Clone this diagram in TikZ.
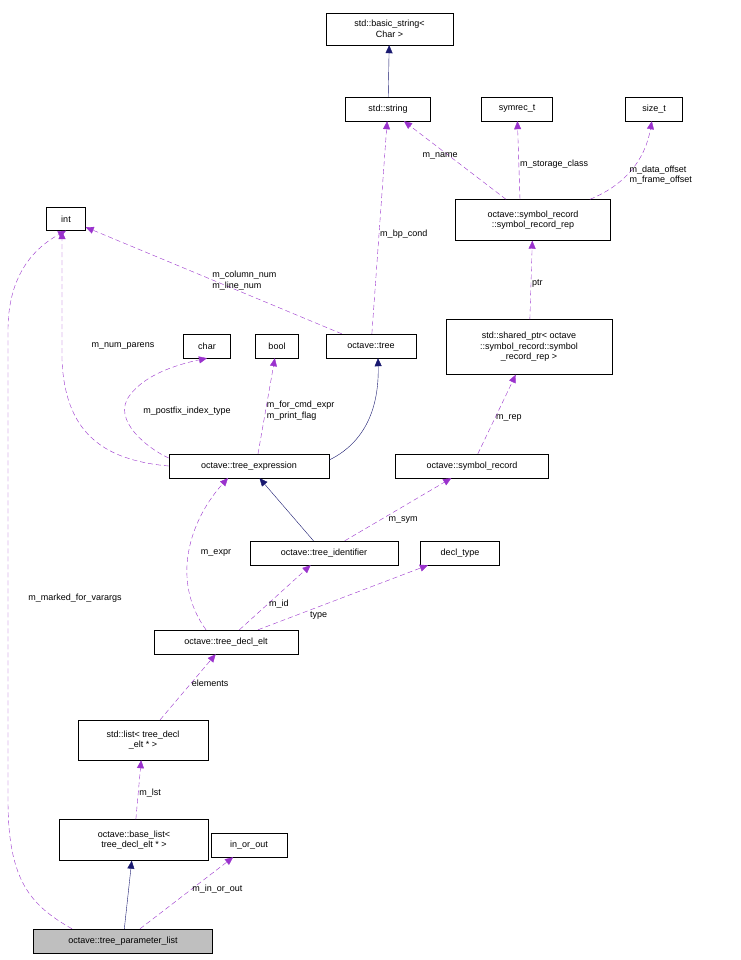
\documentclass[tikz,border=0pt]{standalone}
\usepackage{fontspec}
\setmainfont{Liberation Sans}
\usepackage{tikz}
\usetikzlibrary{arrows.meta,positioning}
\definecolor{edgepurple}{RGB}{154,50,205}
\definecolor{edgenavy}{RGB}{25,25,112}
\tikzset{
  cls/.style={draw=black,fill=white,inner sep=2pt,align=center,font=\fontsize{9}{10.5}\selectfont},
  uses/.style={draw=edgepurple,dashed,dash pattern=on 5pt off 3pt,-{Triangle[width=7pt,length=8pt]},fill=none},
  inherits/.style={draw=edgenavy,-{Triangle[width=7pt,length=8pt]},fill=none},
  lbl/.style={font=\fontsize{9}{10.5}\selectfont,align=left,inner sep=1pt}
}
\begin{document}
\begin{tikzpicture}[x=1pt,y=-1pt]
       \fill[white] (0,0) rectangle (740,960);
       \useasboundingbox (0,0) rectangle (740,960);

       %top classes
       \node[cls,minimum width=127pt,minimum height=32pt] (bstr) at (389.5,29) {std::basic\_string\textless\\Char \textgreater};
       \node[cls,minimum width=85pt,minimum height=24pt] (str) at (388,109) {std::string};
       \node[cls,minimum width=71pt,minimum height=24pt] (symrec) at (517,109) {symrec\_t};
       \node[cls,minimum width=57pt,minimum height=24pt] (sizet) at (654,109) {size\_t};
       \node[cls,minimum width=155pt,minimum height=41pt] (symrep) at (533,220) {octave::symbol\_record\\::symbol\_record\_rep};
       \node[cls,minimum width=39pt,minimum height=23pt] (int) at (66,219) {int};
       \node[cls,minimum width=166pt,minimum height=55pt] (shptr) at (529,347) {std::shared\_ptr\textless{} octave\\::symbol\_record::symbol\\\_record\_rep \textgreater};

       %middle row
       \node[cls,minimum width=47pt,minimum height=24pt] (char) at (207,346) {char};
       \node[cls,minimum width=43pt,minimum height=24pt] (bool) at (277,346) {bool};
       \node[cls,minimum width=90pt,minimum height=24pt] (tree) at (371,346) {octave::tree};
       \node[cls,minimum width=160pt,minimum height=24pt] (texpr) at (249,466) {octave::tree\_expression};
       \node[cls,minimum width=153pt,minimum height=24pt] (symr) at (472,466) {octave::symbol\_record};
       \node[cls,minimum width=148pt,minimum height=24pt] (tid) at (324,553) {octave::tree\_identifier};
       \node[cls,minimum width=79pt,minimum height=24pt] (decl) at (460,553) {decl\_type};
       \node[cls,minimum width=144pt,minimum height=24pt] (tdecl) at (226,642) {octave::tree\_decl\_elt};

       %bottom
       \node[cls,minimum width=130pt,minimum height=40pt] (lst) at (143,740) {std::list\textless{} tree\_decl\\\_elt * \textgreater};
       \node[cls,minimum width=149pt,minimum height=41pt] (blist) at (134,840) {octave::base\_list\textless\\tree\_decl\_elt * \textgreater};
       \node[cls,minimum width=76pt,minimum height=24pt] (inout) at (249,845) {in\_or\_out};
       \node[cls,fill={rgb,255:red,191;green,191;blue,191},minimum width=179pt,minimum height=24pt] (tpl) at (123,941) {octave::tree\_parameter\_list};

       %inheritance
       \draw[inherits] (str) -- (bstr);
       \draw[inherits] (tpl) -- (blist);
       \draw[inherits] (tid) -- (texpr);
       \draw[inherits] (texpr.east) ++(0,-6) .. controls (370,440) and (379,400) .. (tree.south -| 378,0);

       %members
       \draw[uses] (symrep) -- (str) node[lbl,pos=0.5,above left=0pt and -4pt] {m\_name};
       \draw[uses] (symrep.north -| 520,0) -- (symrec) node[lbl,pos=0.45,right] {m\_storage\_class};
       \draw[uses] (symrep.north -| 590,0) .. controls (625,185) and (645,160) .. (sizet) node[lbl,pos=0.45,right,yshift=-2pt] {m\_data\_offset\\m\_frame\_offset};
       \draw[uses] (tree) -- (str) node[lbl,pos=0.47,right] {m\_bp\_cond};
       \draw[uses] (tree) -- (int) node[lbl,pos=0.4,above,xshift=5pt] {m\_column\_num\\m\_line\_num};
       \draw[uses] (shptr) -- (symrep) node[lbl,pos=0.45,right] {ptr};
       \draw[uses] (symr) -- (shptr) node[lbl,pos=0.45,right] {m\_rep};
       \draw[uses] (texpr.west) .. controls (100,460) and (65,430) .. (62,360) -- (62,231);
       \node[lbl] (lnp) at (123,346) {m\_num\_parens};
       \draw[uses] (texpr.west |- 0,458) .. controls (150,450) and (110,420) .. (130,395) .. controls (145,375) and (175,365) .. (char.south);
       \node[lbl] (lpix) at (187,411) {m\_postfix\_index\_type};
       \draw[uses] (texpr.north -| 258,0) -- (bool) node[lbl,pos=0.45,right] {m\_for\_cmd\_expr\\m\_print\_flag};
       \draw[uses] (tid) -- (symr) node[lbl,pos=0.4,below right=0pt and 0pt] {m\_sym};
       \draw[uses] (tdecl.north -| 206,0) .. controls (170,580) and (190,520) .. (228,478);
       \node[lbl] (lexpr) at (216,553) {m\_expr};
       \draw[uses] (tdecl) -- (tid) node[lbl,pos=0.4,right] {m\_id};
       \draw[uses] (tdecl.north -| 258,0) -- (decl) node[lbl,pos=0.3,below right] {type};
       \draw[uses] (lst) -- (tdecl) node[lbl,pos=0.55,right] {elements};
       \draw[uses] (blist) -- (lst) node[lbl,pos=0.45,right] {m\_lst};
       \draw[uses] (tpl.north -| 140,0) -- (inout) node[lbl,pos=0.55,right] {m\_in\_or\_out};
       \draw[uses] (tpl.north -| 72,0) .. controls (30,905) and (8,880) .. (8,800) -- (8,330) .. controls (8,280) and (30,250) .. (int.south);
       \node[lbl] (lmfv) at (75,598) {m\_marked\_for\_varargs};
\end{tikzpicture}
\end{document}
